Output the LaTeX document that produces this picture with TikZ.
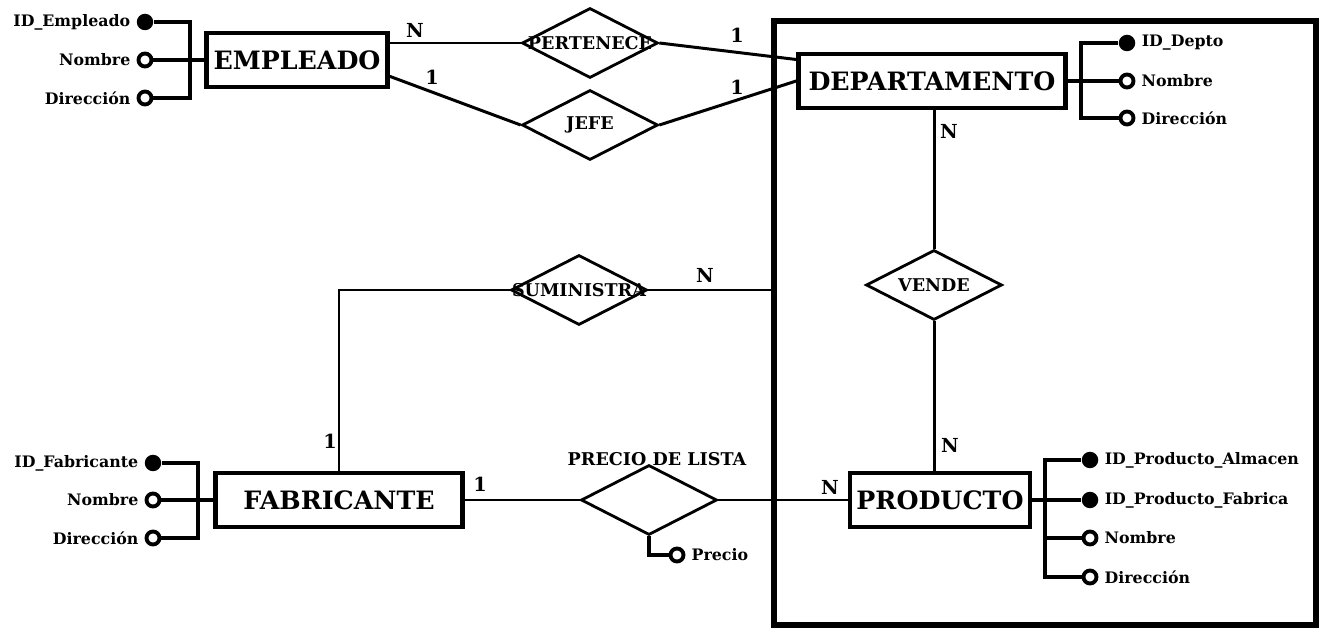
\documentclass[tikz,border=0pt]{standalone}
\usepackage{fontspec}
\setmainfont{DejaVu Serif}
\usetikzlibrary{shapes,positioning,calc}

\begin{document}
\begin{tikzpicture}[x=0.02cm, y=-0.02cm,
    entity/.style={rectangle, draw, line width=2.6pt, minimum height=1.08cm, inner sep=0pt, font=\fontsize{14.4}{17}\selectfont\bfseries},
    rel/.style={diamond, draw, line width=1.6pt, minimum width=2.72cm, minimum height=1.4cm, inner sep=0pt},
    reltext/.style={font=\fontsize{10}{12}\selectfont\bfseries, inner sep=0pt},
    keyatt/.style={circle, fill=black, minimum size=0.33cm, inner sep=0pt},
    att/.style={circle, draw, line width=2.2pt, fill=white, minimum size=0.26cm, inner sep=0pt},
    attext/.style={font=\fontsize{9}{11}\selectfont\bfseries},
    card/.style={font=\fontsize{11}{13}\selectfont\bfseries, inner sep=0pt},
    link/.style={line width=1.7pt},
    attlink/.style={line width=2.2pt}]
    \useasboundingbox (0,0) rectangle (1323,631);

    % store box
    \node[draw, line width=3.4pt, minimum width=10.84cm, minimum height=12.08cm, inner sep=0pt] (store) at (1045,323) {};

    % entities
    \node[entity, minimum width=3.62cm] (emp) at (297,60) {EMPLEADO};
    \node[entity, minimum width=5.34cm] (dept) at (932,81) {DEPARTAMENTO};
    \node[entity, minimum width=4.94cm] (fab) at (339,500) {FABRICANTE};
    \node[entity, minimum width=3.6cm] (prod) at (940,500) {PRODUCTO};

    % relationships
    \node[rel, label={[reltext]center:PERTENECE}] (pert) at (590,43) {};
    \node[rel, label={[reltext]center:JEFE}] (jefe) at (590,125) {};
    \node[rel, label={[reltext]center:SUMINISTRA}] (sum) at (579,290) {};
    \node[rel, label={[reltext]center:VENDE}] (vende) at (934,285) {};
    \node[rel] (precio) at (649,500) {};
    \node[reltext] (precioText) at (657,459) {PRECIO DE LISTA};

    \draw[link] (pert.west) -- (pert.west -| emp.east);
    \draw[link] (pert.east) -- (dept.171);
    \draw[link] (emp.-10) -- (jefe.west);
    \draw[link] (jefe.east) -- (dept.west);
    \draw[link] (dept.south -| vende.north) -- (vende.north);
    \draw[link] (vende.south) -- (vende.south |- prod.north);
    \draw[link] (sum.east) -- (sum.east -| store.west);
    \draw[link] (sum.west) -| (fab.north);
    \draw[link] (fab.east) -- (precio.west);
    \draw[link] (precio.east) -- (prod.west);

    % cardinalities
    \node[card] (cEP) at (415,30) {N};
    \node[card] (cPD) at (737,35) {1};
    \node[card] (cEJ) at (432,77) {1};
    \node[card] (cJD) at (737,87) {1};
    \node[card] (cDV) at (949,131) {N};
    \node[card] (cVP) at (950,445) {N};
    \node[card] (cSS) at (705,275) {N};
    \node[card] (cSF) at (330,441) {1};
    \node[card] (cFP) at (480,484) {1};
    \node[card] (cPP) at (830,487) {N};

    % attributes of EMPLEADO
    \node[keyatt, label={[attext]left:ID\_Empleado}] (empId) at (145,22) {};
    \node[att, label={[attext]left:Nombre}] (empNom) at (145,60) {};
    \node[att, label={[attext]left:Dirección}] (empDir) at (145,98) {};
    \coordinate (empJ) at (190,60);
    \draw[attlink] (empId) -| (empJ) -- (emp.west);
    \draw[attlink] (empDir) -| (empJ);
    \draw[attlink] (empNom) -- (empJ);

    % attributes of DEPARTAMENTO
    \node[keyatt, label={[attext]right:ID\_Depto}] (deptId) at (1127,43) {};
    \node[att, label={[attext]right:Nombre}] (deptNom) at (1127,81) {};
    \node[att, label={[attext]right:Dirección}] (deptDir) at (1127,118) {};
    \coordinate (deptJ) at (1081,81);
    \draw[attlink] (deptId) -| (deptJ) -- (dept.east);
    \draw[attlink] (deptDir) -| (deptJ);
    \draw[attlink] (deptNom) -- (deptJ);

    % attributes of FABRICANTE
    \node[keyatt, label={[attext]left:ID\_Fabricante}] (fabId) at (153,463) {};
    \node[att, label={[attext]left:Nombre}] (fabNom) at (153,500) {};
    \node[att, label={[attext]left:Dirección}] (fabDir) at (153,538) {};
    \coordinate (fabJ) at (198,500);
    \draw[attlink] (fabId) -| (fabJ) -- (fab.west);
    \draw[attlink] (fabDir) -| (fabJ);
    \draw[attlink] (fabNom) -- (fabJ);

    % attributes of PRODUCTO
    \node[keyatt, label={[attext]right:ID\_Producto\_Almacen}] (prodIdA) at (1090,460) {};
    \node[keyatt, label={[attext]right:ID\_Producto\_Fabrica}] (prodIdF) at (1090,500) {};
    \node[att, label={[attext]right:Nombre}] (prodNom) at (1090,538) {};
    \node[att, label={[attext]right:Dirección}] (prodDir) at (1090,577) {};
    \coordinate (prodJ) at (1045,500);
    \draw[attlink] (prodIdA) -| (prodJ) -- (prod.east);
    \draw[attlink] (prodDir) -| (prodJ);
    \draw[attlink] (prodNom) -| (prodJ);
    \draw[attlink] (prodIdF) -- (prodJ);

    % attribute of PRECIO DE LISTA
    \node[att, label={[attext]right:Precio}] (precioAtt) at (677,555) {};
    \draw[attlink] (precio.south) |- (precioAtt);
\end{tikzpicture}
\end{document}
